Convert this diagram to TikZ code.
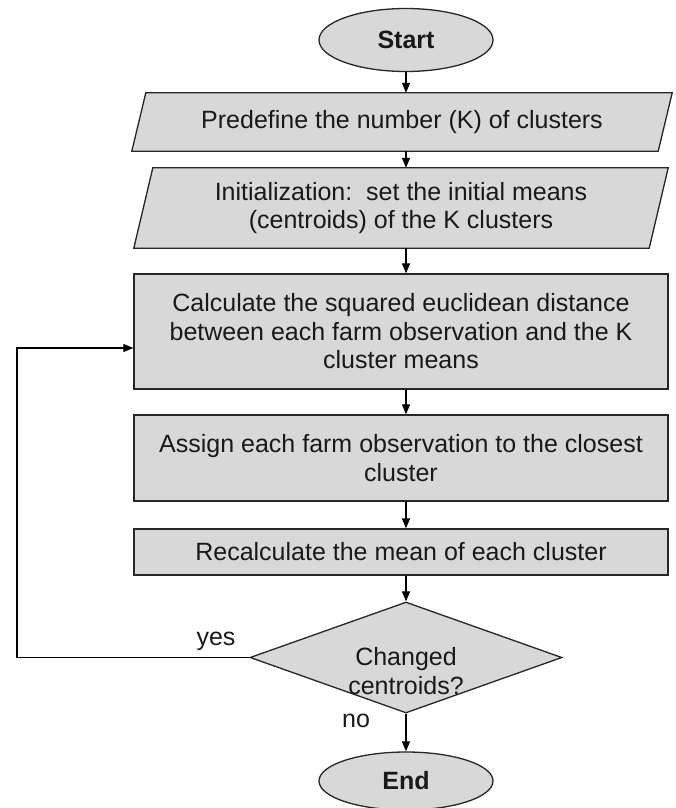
\documentclass[tikz,border=0pt]{standalone}
\usepackage{fontspec}
\setmainfont{Liberation Sans}
\usetikzlibrary{shapes.geometric,arrows.meta,backgrounds}
\definecolor{boxfill}{HTML}{D8D8D8}
\definecolor{edge}{HTML}{262626}
\tikzset{
  basefont/.style={font=\fontsize{25}{28.5}\selectfont, text=black!90},
  term/.style={ellipse, draw=edge, line width=1.3pt, fill=boxfill, basefont, font=\fontsize{25}{28.5}\selectfont\bfseries, minimum width=174pt, inner sep=0pt},
  ptext/.style={rectangle, basefont, align=center, inner sep=0pt},
  pshape/.style={draw=edge, line width=1.3pt, fill=boxfill, line join=miter},
  procbox/.style={rectangle, draw=edge, line width=1.3pt, fill=boxfill, basefont, align=center, minimum width=534pt, inner sep=0pt},
  decbox/.style={diamond, draw=edge, line width=1.3pt, fill=boxfill, minimum width=312pt, minimum height=111pt, inner sep=0pt},
  lbl/.style={basefont, inner sep=0pt},
  arr/.style={draw=black, line width=1.2pt, -{Triangle[length=10pt,width=8pt]}},
  plainline/.style={draw=black, line width=1.2pt}
}
\begin{document}
\begin{tikzpicture}[x=1pt,y=-1pt]
\useasboundingbox (0,0) rectangle (676,808);
% terminals
\node[term, minimum height=63pt] (start) at (406,40) {Start};
% input / output parallelograms
\node[ptext, minimum width=526pt, minimum height=58pt] (p1) at (402,122) {Predefine the number (K) of clusters};
\node[ptext, minimum width=515pt, minimum height=80pt] (p2) at (401,208) {Initialization:\ \ set the initial means\\(centroids) of the K clusters};
\begin{scope}[on background layer]
  \draw[pshape] ([xshift=7pt]p1.north west) -- ([xshift=7pt]p1.north east) -- ([xshift=-7pt]p1.south east) -- ([xshift=-7pt]p1.south west) -- cycle;
  \draw[pshape] ([xshift=9.5pt]p2.north west) -- ([xshift=9.5pt]p2.north east) -- ([xshift=-9.5pt]p2.south east) -- ([xshift=-9.5pt]p2.south west) -- cycle;
\end{scope}
% process boxes
\node[procbox, minimum height=115pt] (r1) at (401,331.5) {Calculate the squared euclidean distance\\between each farm observation and the K\\cluster means};
\node[procbox, minimum height=86pt] (r2) at (401,458) {Assign each farm observation to the closest\\cluster};
\node[procbox, minimum height=46pt] (r3) at (401,552) {Recalculate the mean of each cluster};
% decision
\node[decbox] (dia) at (406,657.5) {};
\node[ptext] (dtext) at (406,671) {Changed\\centroids?};
\node[term, minimum height=58pt] (end) at (406,781) {End};
% labels
\node[lbl] (yes) at (216,641) {yes};
\node[lbl] (no) at (356,721) {no};
% connectors
\draw[arr] (start.south) -- (start.south |- p1.north);
\draw[arr] (start |- p1.south) -- (start |- p2.north);
\draw[arr] (start |- p2.south) -- (start |- r1.north);
\draw[arr] (start |- r1.south) -- (start |- r2.north);
\draw[arr] (start |- r2.south) -- (start |- r3.north);
\draw[arr] (start |- r3.south) -- (dia.north);
\draw[arr] (dia.south) -- (end.north);
\coordinate (loopx) at (17,657.5);
\coordinate (loopin) at ([yshift=-16.5pt]r1.west);
\draw[arr] (dia.west) -- (loopx) |- (loopin);
\end{tikzpicture}
\end{document}
